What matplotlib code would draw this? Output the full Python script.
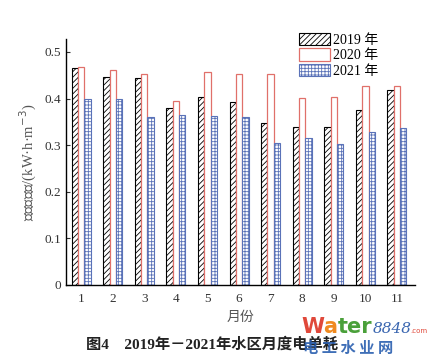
import matplotlib.pyplot as plt
import numpy as np

plt.rcParams['font.family'] = ['Liberation Serif', 'Noto Sans CJK SC']
plt.rcParams['hatch.linewidth'] = 0.6

months = [1, 2, 3, 4, 5, 6, 7, 8, 9, 10, 11]
y2019 = [0.466, 0.446, 0.444, 0.380, 0.403, 0.393, 0.347, 0.339, 0.339, 0.375, 0.418]
y2020 = [0.468, 0.461, 0.452, 0.395, 0.457, 0.453, 0.453, 0.401, 0.403, 0.427, 0.427]
y2021 = [0.399, 0.399, 0.360, 0.365, 0.362, 0.361, 0.305, 0.315, 0.302, 0.328, 0.337]
labels = ['2019 年', '2020 年', '2021 年']

red = '#e0706a'
blue = '#5a72b8'

fig = plt.figure(figsize=(4.3, 3.63), dpi=100)
ax = fig.add_axes([0.1535, 0.215, 0.8115, 0.678])

x = np.array(months)
w = 0.2
ax.bar(x - w, y2019, w, facecolor='white', edgecolor='black', hatch='//////', linewidth=0.8, label=labels[0])
ax.bar(x, y2020, w, facecolor='white', edgecolor=red, linewidth=0.9, label=labels[1])
plt.rcParams['hatch.color'] = blue
ax.bar(x + w, y2021, w, facecolor='white', edgecolor=blue, hatch='+++++', linewidth=0.8, label=labels[2])

ax.set_xlim(0.52, 11.57)
ax.set_ylim(0, 0.528)
ax.set_xticks(months)
ax.set_yticks([0, 0.1, 0.2, 0.3, 0.4, 0.5])
ax.set_yticklabels(['0', '0.1', '0.2', '0.3', '0.4', '0.5'])
ax.tick_params(direction='in', labelsize=9.5, length=3, colors='#333333')
ax.tick_params(axis='x', length=0, pad=6)
for s in ['top', 'right']:
    ax.spines[s].set_visible(False)
for s in ['left', 'bottom']:
    ax.spines[s].set_linewidth(1.0)

ax.set_xlabel('月份', fontsize=10, color='#555555', labelpad=4)
ax.set_ylabel('水区电单耗/(kW·h·m$^{-3}$)', fontsize=10.5, color='#555555', labelpad=4)

ax.legend(loc='upper right', bbox_to_anchor=(0.93, 1.075), frameon=False, fontsize=10,
          handlelength=2.2, handleheight=1.0, handletextpad=0.2, labelspacing=0.1)

fig.text(0.2, 0.04, '图4    2019年－2021年水区月度电单耗', fontsize=11, fontweight='bold', color='#222222')

# watermark
fig.text(0.700, 0.082, 'W', fontsize=15, fontweight='bold', color='#e0483a', family='DejaVu Sans')
fig.text(0.752, 0.082, 'a', fontsize=15, fontweight='bold', color='#f08a20', family='DejaVu Sans')
fig.text(0.785, 0.082, 'ter', fontsize=15, fontweight='bold', color='#4aa03a', family='DejaVu Sans')
fig.text(0.866, 0.084, '8848', fontsize=11, style='italic', color='#3a66b0', family='DejaVu Serif')
fig.text(0.955, 0.084, '.com', fontsize=5, color='#e0483a', family='DejaVu Sans')
fig.text(0.705, 0.028, '电 工 水 业 网', fontsize=11, fontweight='bold', color='#2a5fb0',
         family='Noto Sans CJK SC', alpha=0.9)

fig.savefig('out.png', dpi=100)
